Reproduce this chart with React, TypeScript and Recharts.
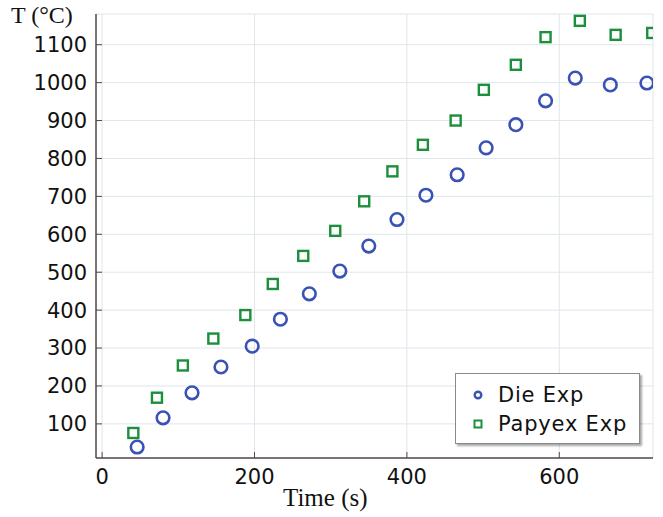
import {
  CartesianGrid,
  Legend,
  Scatter,
  ScatterChart,
  XAxis,
  YAxis,
} from "recharts";

const dieTime = [46, 80, 118, 156, 197, 234, 272, 312, 350, 387, 425, 466, 504, 543, 582, 621, 667, 715];
const dieTemp = [39, 116, 182, 250, 305, 376, 443, 503, 569, 639, 703, 757, 828, 889, 952, 1012, 994, 999];

const papyexTime = [41, 72, 106, 146, 188, 224, 264, 306, 344, 381, 421, 464, 501, 543, 582, 627, 674, 722];
const papyexTemp = [76, 169, 254, 325, 387, 469, 543, 609, 687, 766, 836, 900, 981, 1047, 1120, 1163, 1126, 1131];

const xTicks = [0, 200, 400, 600];
const yTicks = [100, 200, 300, 400, 500, 600, 700, 800, 900, 1000, 1100];

const BLUE = "#3a52b5";
const GREEN = "#1b8f3c";
const AXIS = "#544848";
const GRID = "#dfe6eb";
const SANS = '"DejaVu Sans", Verdana, sans-serif';
const SERIF = '"Liberation Serif", "Times New Roman", serif';

const dieData = dieTime.map((t, i) => ({ t, T: dieTemp[i] }));
const papyexData = papyexTime.map((t, i) => ({ t, T: papyexTemp[i] }));

const tickStyle = { fontSize: 21, fill: "#111", fontFamily: SANS };

function Circle(props: any) {
  return <circle cx={props.cx} cy={props.cy} r={6.3} fill="none" stroke={BLUE} strokeWidth={2.6} />;
}

function Square(props: any) {
  return (
    <rect
      x={props.cx - 5}
      y={props.cy - 5}
      width={10}
      height={10}
      fill="none"
      stroke={GREEN}
      strokeWidth={2.4}
    />
  );
}

function LegendBox() {
  const rows = [
    { name: "Die Exp", mark: <circle cx={7} cy={7} r={3.3} fill="none" stroke={BLUE} strokeWidth={2.4} /> },
    { name: "Papyex Exp", mark: <rect x={3.5} y={3.5} width={7} height={7} fill="none" stroke={GREEN} strokeWidth={2} /> },
  ];
  return (
    <div
      style={{
        boxSizing: "border-box",
        width: 185,
        height: 71,
        border: "1px solid #8a8a8a",
        background: "#fff",
        boxShadow: "2px 2px 2px rgba(0,0,0,0.35)",
        padding: "6px 0 0 15px",
        fontFamily: SANS,
        fontSize: 21,
        letterSpacing: 0.8,
        color: "#111",
      }}
    >
      {rows.map((r) => (
        <div key={r.name} style={{ display: "flex", alignItems: "center", height: 29 }}>
          <svg width={14} height={14} style={{ marginRight: 13 }}>
            {r.mark}
          </svg>
          <span>{r.name}</span>
        </div>
      ))}
    </div>
  );
}

export default function App() {
  return (
    <div style={{ position: "absolute", left: 0, top: 0, width: 663, height: 517, background: "#fff" }}>
      <ScatterChart width={663} height={517} margin={{ top: 14, right: 10, left: 0, bottom: 0 }}>
        <CartesianGrid xAxisId="b" yAxisId="l" stroke={GRID} strokeWidth={1} />
        <XAxis
          xAxisId="b"
          type="number"
          dataKey="t"
          domain={[-8, 723]}
          ticks={xTicks}
          allowDataOverflow
          height={59}
          tickSize={-6}
          tickMargin={17}
          tick={tickStyle}
          stroke={AXIS}
          axisLine={{ stroke: AXIS, strokeWidth: 1.5 }}
        />
        <XAxis
          xAxisId="top"
          orientation="top"
          type="number"
          domain={[-8, 723]}
          ticks={xTicks}
          allowDataOverflow
          height={0}
          tickSize={-6}
          tick={false}
          stroke={AXIS}
          axisLine={{ stroke: AXIS, strokeWidth: 1.5 }}
        />
        <YAxis
          yAxisId="l"
          type="number"
          dataKey="T"
          domain={[10, 1181]}
          ticks={yTicks}
          allowDataOverflow
          width={96}
          tickSize={-6}
          tickMargin={15}
          tick={tickStyle}
          stroke={AXIS}
          axisLine={{ stroke: AXIS, strokeWidth: 1.5 }}
        />
        <YAxis
          yAxisId="r"
          orientation="right"
          type="number"
          domain={[10, 1181]}
          ticks={yTicks}
          allowDataOverflow
          width={0}
          tickSize={-6}
          tick={false}
          stroke={AXIS}
          axisLine={{ stroke: AXIS, strokeWidth: 1.5 }}
        />
        <Scatter
          name="Die Exp"
          data={dieData}
          xAxisId="b"
          yAxisId="l"
          shape={Circle}
          isAnimationActive={false}
        />
        <Scatter
          name="Papyex Exp"
          data={papyexData}
          xAxisId="b"
          yAxisId="l"
          shape={Square}
          isAnimationActive={false}
        />
        <Legend
          layout="horizontal"
          verticalAlign="middle"
          align="center"
          content={() => <LegendBox />}
          wrapperStyle={{ left: 455, top: 373, width: 185, height: 71 }}
        />
      </ScatterChart>
      <div
        style={{
          position: "absolute",
          left: 11,
          top: 2,
          fontFamily: SERIF,
          fontSize: 24,
          color: "#111",
          whiteSpace: "nowrap",
        }}
      >
        T (°C)
      </div>
      <div
        style={{
          position: "absolute",
          left: 283,
          top: 484,
          fontFamily: SERIF,
          fontSize: 25,
          color: "#111",
          whiteSpace: "nowrap",
        }}
      >
        Time (s)
      </div>
    </div>
  );
}
